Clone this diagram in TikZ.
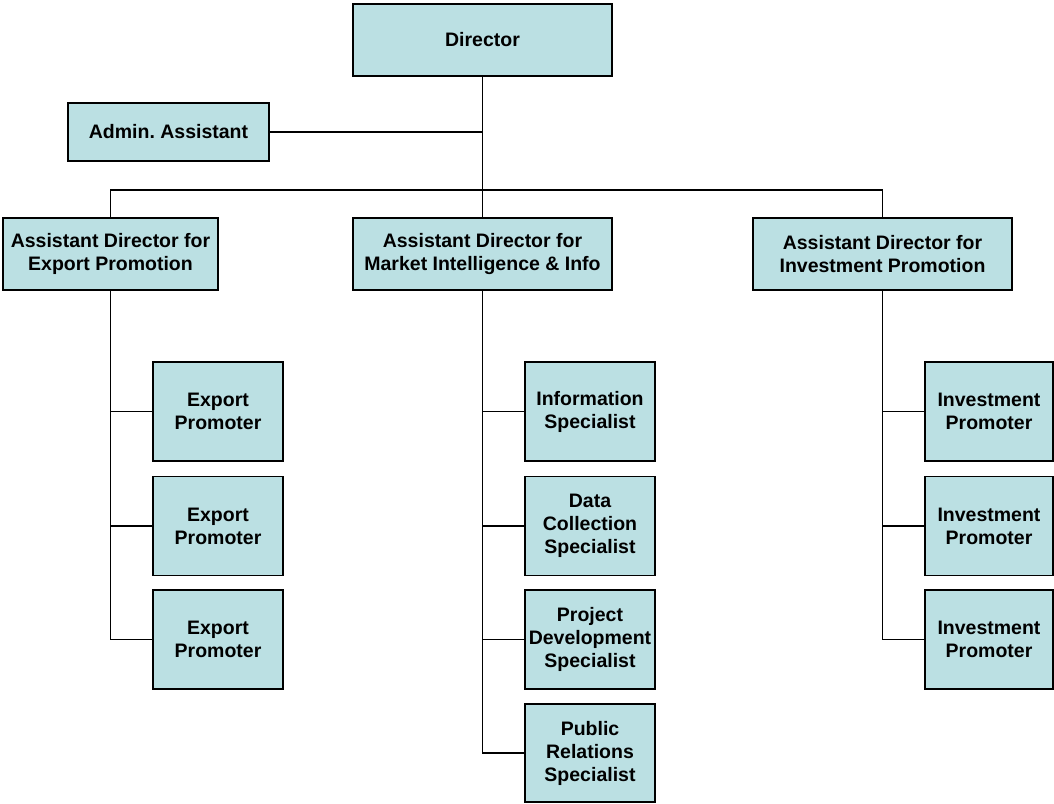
\documentclass[tikz,border=0pt]{standalone}
\usepackage{fontspec}
\setmainfont{Liberation Sans}
\frenchspacing
\definecolor{boxfill}{RGB}{187,224,227}
\begin{document}
\begin{tikzpicture}[x=1pt, y=-1pt,
    post/.style={draw, line width=1.6pt, fill=boxfill, inner sep=0pt, align=center,
                 font=\fontsize{19.5}{23}\selectfont\bfseries},
    head/.style={post, minimum width=259pt, minimum height=72pt},
    staff/.style={post, minimum width=130pt, minimum height=99pt},
    link/.style={line width=1.5pt}]
                    \useasboundingbox (0,0) rectangle (1054,803);

                    \node[head] (dir) at (482.5,40) {Director};
                    \node[post, minimum width=201pt, minimum height=58pt] (admin) at (168.5,132) {Admin. Assistant};
                    \node[head, minimum width=215pt] (adE) at (110.5,254) {Assistant Director for\\Export Promotion};
                    \node[head] (adM) at (482.5,254) {Assistant Director for\\Market Intelligence \& Info};
                    \node[head] (adI) at (882.5,254) {Assistant Director for\\Investment Promotion};
                    \coordinate (bus) at (482.5,190);

                    \node[staff] (ep1) at (218,411.5) {Export\\Promoter};
                    \node[staff] (ep2) at (218,526) {Export\\Promoter};
                    \node[staff] (ep3) at (218,639.5) {Export\\Promoter};

                    \node[staff] (mi1) at (590,411.5) {Information\\Specialist};
                    \node[staff] (mi2) at (590,526) {Data\\Collection\\Specialist};
                    \node[staff] (mi3) at (590,639.5) {Project\\Development\\Specialist};
                    \node[staff, minimum height=98pt] (mi4) at (590,753) {Public\\Relations\\Specialist};

                    \node[staff, minimum width=128pt] (ip1) at (989,411.5) {Investment\\Promoter};
                    \node[staff, minimum width=128pt] (ip2) at (989,526) {Investment\\Promoter};
                    \node[staff, minimum width=128pt] (ip3) at (989,639.5) {Investment\\Promoter};

                    \draw[link] (dir) -- (adM);
                    \draw[link] (admin.east) -- (admin.east -| dir.south);
                    \draw[link] (adE.north) |- (bus) -| (adI.north);

                    \foreach \i in {1,2,3} {
                        \draw[link] (adE.south) |- (ep\i.west);
                        \draw[link] (adI.south) |- (ip\i.west);
                    }
                    \foreach \i in {1,...,4}
                        \draw[link] (adM.south) |- (mi\i.west);
                \end{tikzpicture}
\end{document}
